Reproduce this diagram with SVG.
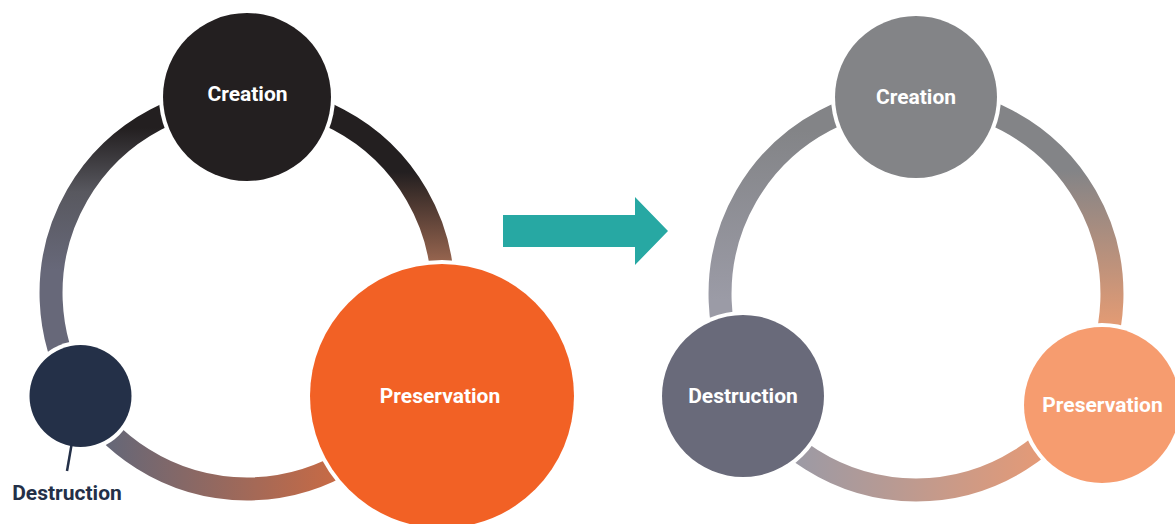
<svg xmlns="http://www.w3.org/2000/svg" width="1175" height="524" viewBox="0 0 1175 524">
<style>
.ring{fill:none;stroke-width:23}
.halo{fill:#ffffff}
.lbl{font-family:Roboto,"Liberation Sans",sans-serif;font-weight:700;font-size:21px;fill:#ffffff;text-anchor:middle}
</style>
<defs>
<linearGradient id="gLR" gradientUnits="userSpaceOnUse" x1="0" y1="172" x2="0" y2="262"><stop offset="0" stop-color="#231f20"/><stop offset="1" stop-color="#97654f"/></linearGradient>
<linearGradient id="gLL" gradientUnits="userSpaceOnUse" x1="0" y1="128" x2="0" y2="270"><stop offset="0" stop-color="#231f20"/><stop offset="0.45" stop-color="#58585f"/><stop offset="1" stop-color="#676879"/></linearGradient>
<linearGradient id="gLB" gradientUnits="userSpaceOnUse" x1="110" y1="0" x2="330" y2="0"><stop offset="0" stop-color="#666777"/><stop offset="1" stop-color="#c56a46"/></linearGradient>
<linearGradient id="gRR" gradientUnits="userSpaceOnUse" x1="0" y1="170" x2="0" y2="325"><stop offset="0" stop-color="#838487"/><stop offset="1" stop-color="#e39b74"/></linearGradient>
<linearGradient id="gRL" gradientUnits="userSpaceOnUse" x1="0" y1="130" x2="0" y2="300"><stop offset="0" stop-color="#838487"/><stop offset="1" stop-color="#9b9ba6"/></linearGradient>
<linearGradient id="gRB" gradientUnits="userSpaceOnUse" x1="790" y1="0" x2="1040" y2="0"><stop offset="0" stop-color="#9a9aa6"/><stop offset="1" stop-color="#e49a77"/></linearGradient>
</defs>
<g id="connectors">
<path class="ring" stroke="url(#gLR)" d="M247,97 A196,196 0 0 1 416.7,391"/>
<path class="ring" stroke="url(#gLB)" d="M416.7,391 A196,196 0 0 1 77.3,391"/>
<path class="ring" stroke="url(#gLL)" d="M77.3,391 A196,196 0 0 1 247,97"/>
<path class="ring" stroke="url(#gRR)" d="M916,98 A196,196 0 0 1 1085.7,392"/>
<path class="ring" stroke="url(#gRB)" d="M1085.7,392 A196,196 0 0 1 746.3,392"/>
<path class="ring" stroke="url(#gRL)" d="M746.3,392 A196,196 0 0 1 916,98"/>
<polygon points="503,215 635,215 635,197 668,231 635,265 635,247 503,247" fill="#27a8a3"/>
</g>
<g id="left-creation">
<circle class="halo" cx="247" cy="97" r="88"/>
<circle cx="247" cy="97" r="84" fill="#231f20"/>
<text class="lbl" x="247.5" y="101">Creation</text>
</g>
<g id="left-preservation">
<circle class="halo" cx="442" cy="396" r="136"/>
<circle cx="442" cy="396" r="132" fill="#f26125"/>
<text class="lbl" x="440" y="403">Preservation</text>
</g>
<g id="left-destruction">
<circle class="halo" cx="80.5" cy="396" r="55"/>
<circle cx="80.5" cy="396" r="51" fill="#243048"/>
<line x1="71.5" y1="445" x2="67" y2="471" stroke="#243048" stroke-width="2.5"/>
<text class="lbl" x="67" y="500" style="fill:#243048">Destruction</text>
</g>
<g id="right-creation">
<circle class="halo" cx="916" cy="97" r="85"/>
<circle cx="916" cy="97" r="81" fill="#838487"/>
<text class="lbl" x="916" y="104">Creation</text>
</g>
<g id="right-destruction">
<circle class="halo" cx="743" cy="396" r="85"/>
<circle cx="743" cy="396" r="81" fill="#696a7a"/>
<text class="lbl" x="743" y="402.5">Destruction</text>
</g>
<g id="right-preservation">
<circle class="halo" cx="1102" cy="405" r="82"/>
<circle cx="1102" cy="405" r="78" fill="#f69c6f"/>
<text class="lbl" x="1102.5" y="411.5">Preservation</text>
</g>
</svg>
